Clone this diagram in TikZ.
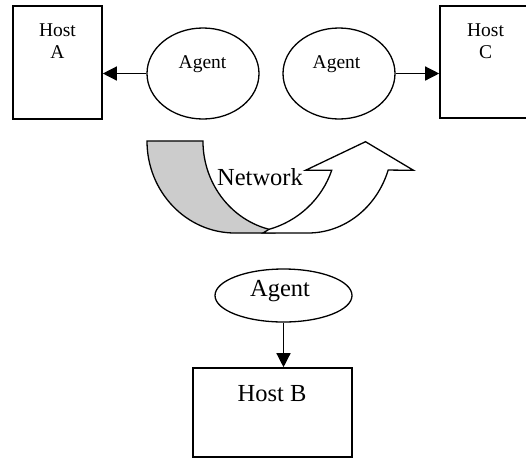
\documentclass[tikz,border=0pt]{standalone}
\usepackage{fontspec}
\setmainfont{Liberation Serif}
\usetikzlibrary{arrows.meta,shapes.geometric}
\begin{document}
\begin{tikzpicture}[x=1pt,y=-1pt,
  hostbox/.style={draw,line width=1.6pt,rectangle,inner sep=0pt},
  agent/.style={draw,line width=1.3pt,ellipse,inner sep=0pt},
  smalltxt/.style={font=\fontsize{19.5}{22.5}\selectfont,inner sep=0pt},
  bigtxt/.style={font=\fontsize{24.5}{28}\selectfont,inner sep=0pt},
  link/.style={line width=1.3pt,-{Triangle[length=14pt,width=14pt]}},
  band/.style={draw,line width=1.3pt,line join=miter}]
\useasboundingbox (0,0) rectangle (526,459);
\clip (0,0) rectangle (526,459);

% hosts
\node[hostbox,minimum width=89pt,minimum height=113pt] (hostA) at (57.5,62.5) {};
\node[hostbox,minimum width=89pt,minimum height=112pt] (hostC) at (484.5,62) {};
\node[hostbox,minimum width=159pt,minimum height=89pt] (hostB) at (272.5,412.5) {};
\node[smalltxt,align=center,anchor=north] (hostAtext) at (57.5,23.1) {Host\\A};
\node[smalltxt,align=center,anchor=north] (hostCtext) at (485.5,23.1) {Host\\C};
\node[bigtxt,anchor=base] (hostBtext) at (272,401.5) {Host B};

% agents
\node[agent,minimum width=112pt,minimum height=91pt] (agentA) at (203,73.5) {};
\node[agent,minimum width=112pt,minimum height=91pt] (agentC) at (339,73.5) {};
\node[agent,minimum width=137pt,minimum height=53pt] (agentB) at (283.5,295.5) {};
\node[smalltxt,anchor=base] (agentAtext) at (202.5,68) {Agent};
\node[smalltxt,anchor=base] (agentCtext) at (336.5,68) {Agent};
\node[bigtxt,anchor=base] (agentBtext) at (280,296) {Agent};

% connectors
\draw[link] (agentA.west) -- (agentA.west -| hostA.east);
\draw[link] (agentC.east) -- (agentC.east -| hostC.west);
\draw[link] (agentB.south) -- (agentB.south |- hostB.north);

% network: shaded back of the curved arrow
\path[band,fill=gray!40] (147,141)
  arc[start angle=180,end angle=90,x radius=88,y radius=92]
  -- (275,233) -- (275,230.6)
  arc[start angle=99.9,end angle=180,x radius=87,y radius=91]
  -- cycle;
% network: front of the curved arrow with its head
\path[band,fill=white] (263,233) -- (308,233)
  arc[start angle=90,end angle=18.4,x radius=84.5,y radius=92]
  -- (413.5,170.3) -- (365.5,141.7) -- (305.5,170.3) -- (331.7,170.3)
  arc[start angle=18.6,end angle=74,x radius=93.5,y radius=92]
  -- cycle;
\node[bigtxt,anchor=base] (nettext) at (260,185) {Network};
\end{tikzpicture}
\end{document}
